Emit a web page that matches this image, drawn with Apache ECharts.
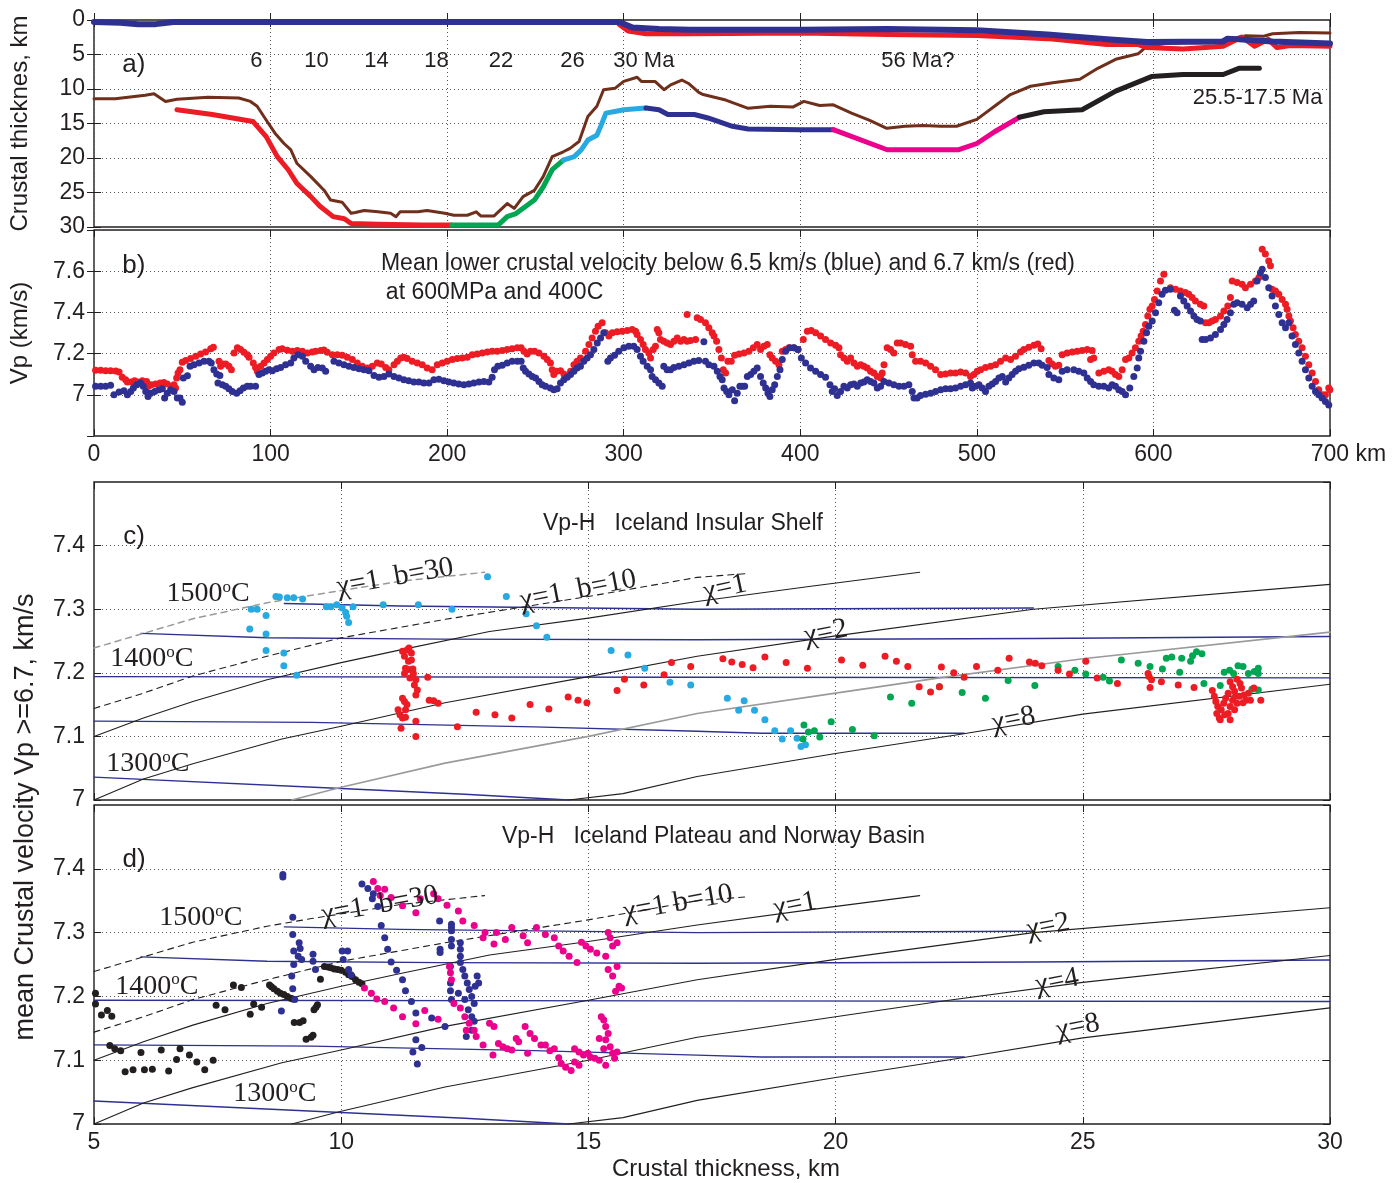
<!DOCTYPE html>
<html>
<head>
<meta charset="utf-8">
<script src="https://cdn.jsdelivr.net/npm/echarts@6/dist/echarts.min.js"></script>
<style>
  html, body { margin: 0; padding: 0; background: #fff; }
  #chart { width: 1397px; height: 1183px; }
</style>
</head>
<body>
<div id="chart"></div>
<script>
// ---------- a) crustal thickness along the profile: [distance km, depth km] ----------
const aTopNavy = [[0,0.3],[15,0.4],[25,0.6],[35,0.6],[45,0.3],[150,0.3],[250,0.3],[297.5,0.3],[305,1.1],[320,1.3],[337.5,1.4],[401,1.4],[449,1.3],[500,1.5],[540,2.1],[573.6,2.8],[596.4,3.2],[639.5,3.1],[642,2.7],[667.5,3.1],[700,3.4]];
const aTopRed = [[297.5,0.65],[302.5,1.6],[312.6,2.0],[337.5,2.0],[401,1.9],[449,2.1],[500,2.25],[540,2.7],[573.6,3.55],[591,3.55],[596.4,4.0],[616.7,4.2],[639.5,3.8],[650,2.45],[657.3,3.8],[665,2.8],[670,4.0],[677.6,3.7],[700,3.8]];
const aBrown = [[0,11.4],[12,11.4],[29,10.9],[34,10.7],[40.5,11.8],[47,11.5],[64.6,11.2],[82,11.3],[88.6,11.8],[92.4,12.5],[97.5,14.5],[102.5,16.4],[107.6,17.9],[111.4,18.8],[115,20.8],[122.8,22.7],[130.4,24.7],[134,26.1],[140.5,26.4],[145.6,28],[148,27.9],[153,27.6],[160.8,27.8],[168,28],[171,28.5],[173.4,27.8],[183.5,27.8],[188.6,27.6],[198.7,28],[203.8,28.3],[211.4,28.3],[216.5,27.8],[219,28.4],[226.6,28.4],[234,26.6],[238,27.3],[243,25.6],[249.4,24.7],[254.4,22.7],[259.5,19.8],[265.8,19.1],[269.6,18.6],[274.7,17.6],[279.7,14],[284.8,12.5],[288.6,10.1],[295,9.9],[300,8.9],[307.6,8.3],[310,8.9],[317.7,8.9],[322.8,10.1],[326.6,9.4],[332.9,8.7],[336.7,9.2],[342.5,10.5],[345,10.8],[357.8,11.6],[370.5,12.8],[383,12.5],[396,12.6],[402,11.8],[411,12.4],[418.7,12.3],[429,13.5],[439,14.5],[449,15.7],[459.3,15.4],[469.5,15.3],[479.6,15.4],[488.5,15.4],[500,14.4],[510,12.5],[519,10.8],[530.4,9.6],[543,9.1],[558.3,8.6],[568.5,7.0],[578.6,5.7],[591.3,4.9],[596.4,3.8],[606.5,3.4],[616.7,3.3],[632,3.3],[642,2.8],[652,2.3],[662.4,2.35],[667.5,2.0],[682.7,1.8],[700,1.9]];
const aBaseRed = [[47,13],[67,13.7],[90,14.7],[97.5,16.9],[103.8,19.8],[110,21.7],[115,23.7],[122.8,25.6],[128,27],[135.4,28.5],[141.8,28.8],[145.6,29.5],[160.8,29.6],[186,29.7],[202.5,29.7]];
const aBaseGreen = [[202.5,29.7],[229,29.7],[234,28.5],[239,28.05],[244,27.1],[249.4,26.1],[254.4,24.2],[259.5,21.7],[265.8,20.3]];
const aBaseCyan = [[265.8,20.3],[272,19.8],[276,18.8],[279.7,17.4],[284.8,16.7],[287.3,15.2],[289.9,13.5],[295,13.25],[300,13.0],[312.6,12.75]];
const aBaseNavy = [[312.6,12.75],[320,13.0],[325,13.7],[340,13.7],[347.7,14.2],[361.6,15.4],[370.5,15.8],[399.7,15.9],[418.7,15.9]];
const aBaseMagenta = [[418.7,15.9],[449.2,18.8],[489.8,18.8],[500,17.9],[510,16.2],[524,14.1]];
const aBaseBlack = [[524,14.1],[538,13.3],[559.6,13.0],[578.6,10.3],[598.9,8.2],[616.7,7.9],[639.5,7.9],[648.4,7.0],[660,7.0]];
const ageText = ['6','10','14','18','22','26','30 Ma','56 Ma?'];
const ageKm = [92,126,160,194,230.5,271,311.4,466.6];

// ---------- b) mean lower crustal velocity: [distance km, Vp km/s] ----------
const bVpRed = [[0.9,7.119],[3.8,7.119],[6.6,7.117],[9.4,7.117],[12.3,7.115],[14.2,7.111],[16.0,7.085],[17.9,7.073],[18.9,7.062],[21.1,7.062],[23.0,7.068],[24.9,7.062],[27.4,7.068],[29.8,7.065],[30.8,7.041],[32.5,7.049],[34.9,7.052],[37.4,7.057],[39.6,7.06],[41.5,7.052],[43.8,7.041],[45.3,7.049],[46.2,7.033],[46.8,7.081],[47.6,7.106],[48.7,7.122],[50.0,7.158],[51.9,7.166],[54.7,7.176],[57.6,7.187],[60.4,7.198],[63.2,7.208],[66.1,7.224],[67.6,7.231],[70.8,7.163],[71.7,7.138],[72.7,7.15],[74.6,7.15],[76.4,7.138],[77.8,7.122],[79.3,7.203],[81.2,7.228],[83.0,7.22],[84.9,7.207],[86.8,7.195],[87.8,7.182],[90.2,7.154],[91.5,7.133],[92.5,7.114],[94.4,7.138],[96.3,7.154],[98.2,7.171],[100.0,7.187],[101.9,7.203],[104.8,7.22],[106.6,7.223],[109.5,7.216],[112.3,7.211],[115.1,7.215],[118.0,7.211],[120.8,7.203],[123.6,7.208],[125.5,7.211],[128.4,7.215],[130.2,7.218],[132.1,7.207],[135.0,7.195],[137.8,7.195],[140.6,7.192],[143.5,7.182],[146.3,7.171],[149.1,7.154],[151.9,7.138],[154.8,7.13],[157.6,7.138],[160.4,7.154],[162.7,7.15],[165.2,7.133],[167.0,7.122],[169.9,7.146],[171.8,7.163],[173.7,7.179],[175.5,7.182],[177.4,7.176],[180.2,7.163],[183.1,7.154],[185.9,7.146],[188.7,7.13],[191.5,7.122],[194.4,7.146],[197.2,7.154],[200.0,7.163],[202.9,7.171],[205.7,7.176],[208.5,7.179],[211.4,7.182],[214.2,7.195],[217.0,7.198],[219.9,7.203],[222.7,7.208],[225.5,7.211],[228.3,7.211],[231.2,7.215],[234.0,7.22],[236.8,7.224],[239.7,7.228],[241.9,7.228],[243.5,7.211],[245.3,7.198],[247.2,7.211],[249.5,7.211],[252.0,7.203],[254.8,7.187],[256.7,7.171],[258.5,7.154],[259.5,7.122],[260.4,7.098],[262.0,7.114],[264.2,7.117],[266.1,7.101],[268.0,7.089],[269.9,7.114],[271.8,7.146],[273.6,7.163],[275.5,7.179],[278.4,7.211],[280.3,7.244],[282.1,7.276],[284.0,7.309],[285.5,7.333],[287.8,7.35],[289.7,7.301],[291.6,7.285],[293.5,7.301],[296.3,7.306],[299.1,7.309],[302.0,7.312],[304.8,7.317],[306.7,7.309],[307.6,7.293],[309.5,7.268],[311.0,7.244],[312.3,7.22],[314.2,7.203],[315.2,7.179],[316.7,7.22],[318.0,7.236],[319.0,7.317],[319.9,7.301],[320.8,7.268],[322.7,7.26],[324.6,7.252],[326.5,7.244],[328.4,7.26],[330.3,7.276],[332.2,7.26],[334.1,7.268],[335.9,7.26],[337.8,7.263],[340.7,7.268],[335.9,7.39],[341.6,7.374],[343.5,7.366],[346.3,7.35],[348.2,7.325],[350.1,7.301],[351.1,7.285],[352.6,7.26],[353.9,7.22],[355.3,7.179],[356.4,7.122],[357.7,7.106],[359.0,7.163],[360.9,7.163],[362.8,7.192],[365.3,7.198],[368.1,7.203],[370.9,7.211],[373.4,7.228],[375.6,7.244],[377.5,7.22],[379.4,7.236],[381.3,7.244],[382.8,7.195],[384.1,7.179],[386.0,7.163],[387.9,7.146],[389.8,7.211],[391.7,7.22],[393.6,7.228],[396.4,7.228],[398.7,7.22],[401.7,7.268],[404.0,7.309],[406.2,7.312],[408.7,7.301],[411.5,7.285],[414.3,7.268],[417.2,7.252],[420.0,7.241],[421.9,7.228],[422.8,7.195],[424.7,7.179],[426.6,7.163],[428.5,7.179],[430.4,7.154],[432.3,7.138],[434.2,7.146],[436.0,7.138],[437.9,7.13],[439.8,7.114],[441.7,7.106],[443.6,7.089],[445.5,7.081],[446.4,7.106],[447.4,7.146],[449.2,7.228],[451.1,7.22],[453.0,7.203],[454.9,7.252],[456.8,7.252],[459.6,7.244],[462.5,7.236],[463.4,7.195],[465.3,7.163],[468.1,7.163],[471.0,7.154],[473.8,7.138],[476.6,7.122],[479.5,7.098],[482.3,7.101],[485.1,7.106],[487.9,7.106],[490.8,7.111],[493.6,7.106],[496.4,7.089],[498.3,7.098],[500.2,7.114],[502.1,7.122],[504.9,7.133],[507.8,7.138],[510.6,7.146],[513.4,7.163],[516.3,7.179],[519.1,7.171],[521.9,7.187],[524.7,7.208],[526.6,7.22],[529.4,7.231],[532.3,7.241],[534.5,7.247],[536.4,7.224],[540.8,7.166],[542.6,7.15],[544.5,7.138],[546.4,7.143],[548.3,7.195],[551.1,7.203],[554.0,7.208],[556.8,7.211],[559.6,7.215],[562.5,7.22],[565.3,7.215],[566.2,7.179],[564.4,7.171],[569.1,7.106],[571.9,7.114],[574.7,7.122],[576.6,7.114],[578.5,7.098],[580.4,7.089],[582.3,7.122],[584.2,7.171],[586.1,7.179],[587.9,7.203],[589.8,7.228],[591.7,7.26],[593.0,7.285],[594.2,7.309],[595.5,7.341],[596.8,7.382],[598.0,7.415],[599.3,7.431],[600.6,7.463],[602.1,7.504],[604.0,7.553],[605.9,7.585],[609.6,7.52],[612.5,7.512],[615.3,7.504],[618.1,7.496],[620.0,7.488],[621.9,7.472],[623.8,7.455],[626.6,7.439],[628.5,7.431],[629.5,7.35],[631.4,7.35],[633.2,7.358],[635.1,7.366],[638.0,7.382],[639.9,7.407],[642.1,7.431],[643.6,7.472],[644.6,7.553],[647.4,7.545],[650.2,7.537],[652.1,7.52],[655.0,7.537],[657.8,7.553],[659.7,7.569],[661.6,7.707],[663.4,7.683],[665.3,7.65],[666.3,7.626],[667.2,7.512],[669.1,7.504],[671.0,7.488],[672.9,7.463],[674.8,7.439],[675.7,7.415],[676.7,7.382],[677.6,7.358],[679.1,7.325],[680.4,7.293],[682.3,7.26],[684.2,7.228],[686.1,7.187],[688.0,7.146],[689.9,7.106],[691.8,7.065],[693.6,7.024],[695.5,7.0],[697.4,7.0],[699.3,7.033],[699.9,7.024]];
const bVpBlue = [[0.9,7.041],[3.8,7.041],[6.6,7.042],[9.4,7.046],[11.3,7.0],[14.2,7.013],[17.0,7.02],[18.9,7.0],[20.8,7.016],[22.3,7.033],[24.2,7.049],[26.4,7.057],[27.9,7.041],[29.3,7.016],[30.6,6.992],[32.1,7.008],[34.4,7.016],[36.8,7.024],[38.7,7.029],[40.0,6.984],[41.5,7.008],[43.4,7.024],[45.3,7.016],[47.2,6.984],[48.7,6.984],[50.0,6.964],[50.6,7.081],[52.9,7.093],[54.4,7.138],[56.6,7.146],[59.5,7.154],[62.3,7.163],[65.1,7.163],[66.4,7.154],[67.9,7.122],[69.5,7.101],[71.3,7.094],[70.2,7.057],[72.7,7.049],[74.6,7.041],[76.4,7.029],[78.3,7.016],[80.8,7.008],[82.7,7.02],[84.6,7.033],[86.8,7.041],[88.7,7.041],[91.5,7.041],[93.4,7.098],[95.3,7.106],[97.2,7.114],[99.1,7.122],[101.0,7.117],[103.4,7.127],[105.7,7.133],[108.5,7.146],[111.4,7.154],[113.2,7.179],[115.5,7.195],[118.0,7.187],[119.9,7.163],[122.7,7.138],[124.6,7.122],[126.8,7.133],[129.3,7.13],[131.2,7.114],[135.9,7.163],[138.7,7.154],[141.6,7.146],[144.4,7.138],[147.2,7.133],[150.1,7.127],[152.9,7.122],[155.7,7.117],[158.6,7.094],[161.4,7.085],[164.2,7.089],[167.0,7.101],[169.9,7.089],[172.7,7.081],[175.5,7.073],[178.3,7.068],[181.2,7.062],[184.0,7.062],[186.8,7.057],[189.7,7.057],[192.5,7.073],[195.3,7.076],[198.2,7.068],[201.0,7.062],[203.8,7.057],[206.6,7.052],[209.5,7.049],[212.3,7.052],[215.1,7.057],[218.0,7.062],[220.8,7.065],[223.6,7.062],[225.5,7.085],[226.8,7.122],[228.7,7.138],[231.2,7.143],[234.0,7.154],[236.8,7.163],[239.7,7.163],[241.9,7.163],[243.1,7.13],[244.4,7.114],[246.3,7.101],[248.2,7.089],[250.1,7.081],[252.0,7.065],[253.8,7.049],[255.7,7.041],[258.5,7.033],[260.4,7.024],[262.3,7.029],[264.2,7.057],[266.1,7.073],[268.0,7.085],[269.9,7.098],[271.8,7.114],[273.6,7.13],[275.5,7.138],[277.4,7.163],[279.3,7.179],[281.2,7.195],[283.1,7.22],[285.0,7.252],[286.9,7.276],[288.7,7.301],[291.0,7.163],[292.5,7.179],[294.8,7.192],[297.2,7.211],[300.1,7.228],[302.9,7.236],[305.7,7.236],[307.6,7.22],[309.5,7.187],[311.0,7.163],[313.3,7.138],[315.2,7.122],[316.1,7.089],[318.0,7.073],[319.9,7.057],[321.8,7.041],[322.7,7.138],[324.6,7.122],[326.5,7.122],[328.4,7.133],[331.2,7.138],[334.1,7.146],[336.9,7.154],[339.7,7.163],[342.5,7.166],[345.4,7.257],[346.3,7.163],[348.2,7.146],[351.1,7.138],[353.0,7.114],[354.5,7.089],[355.8,7.073],[356.8,7.033],[358.3,7.016],[359.6,7.0],[361.5,7.024],[362.8,6.971],[364.3,7.008],[365.8,7.041],[367.1,7.041],[368.5,7.041],[370.0,7.089],[371.9,7.098],[373.7,7.114],[375.6,7.13],[377.5,7.089],[379.0,7.057],[380.4,7.033],[381.7,7.008],[382.8,6.992],[384.1,7.024],[385.5,7.049],[387.0,7.089],[388.5,7.122],[389.8,7.171],[391.7,7.211],[394.1,7.228],[396.4,7.228],[398.7,7.22],[400.6,7.179],[403.0,7.154],[405.8,7.13],[408.7,7.114],[411.5,7.098],[414.3,7.085],[416.8,7.049],[418.1,7.016],[419.4,7.029],[420.9,6.997],[422.8,7.016],[424.7,7.041],[426.6,7.033],[428.5,7.049],[430.4,7.052],[432.3,7.041],[434.2,7.057],[436.0,7.062],[437.9,7.073],[439.8,7.065],[441.7,7.057],[443.6,7.033],[445.5,7.041],[447.4,7.065],[450.2,7.057],[453.0,7.049],[455.9,7.041],[458.7,7.041],[461.5,7.049],[463.4,7.016],[464.4,6.984],[466.2,6.984],[468.1,6.997],[471.0,7.003],[473.8,7.008],[476.6,7.016],[479.5,7.024],[482.3,7.029],[485.1,7.029],[487.9,7.033],[490.8,7.041],[493.6,7.049],[496.4,7.057],[497.4,7.033],[499.3,7.041],[501.2,7.049],[503.0,7.033],[504.9,7.016],[506.8,7.041],[508.7,7.052],[510.6,7.065],[512.5,7.081],[514.4,7.089],[516.3,7.062],[518.1,7.081],[520.0,7.098],[521.9,7.114],[523.8,7.127],[526.6,7.134],[529.4,7.143],[532.3,7.154],[535.1,7.154],[537.0,7.143],[539.8,7.133],[540.8,7.098],[543.6,7.081],[546.4,7.073],[548.3,7.114],[551.1,7.122],[554.9,7.122],[557.7,7.114],[560.6,7.106],[562.5,7.081],[564.4,7.065],[566.2,7.049],[569.1,7.041],[571.9,7.041],[574.7,7.033],[576.6,7.049],[578.5,7.041],[580.4,7.024],[582.3,7.016],[584.2,7.0],[586.6,7.033],[588.9,7.089],[590.8,7.13],[591.7,7.179],[592.7,7.211],[594.6,7.26],[596.1,7.301],[597.4,7.333],[599.3,7.358],[601.2,7.398],[603.0,7.447],[604.9,7.488],[606.8,7.507],[609.6,7.512],[611.9,7.41],[613.4,7.398],[615.3,7.48],[617.2,7.455],[619.1,7.431],[621.0,7.407],[622.9,7.382],[624.7,7.366],[626.6,7.358],[627.6,7.268],[629.5,7.268],[632.3,7.276],[635.1,7.293],[638.0,7.317],[639.9,7.341],[641.7,7.366],[643.6,7.398],[645.5,7.439],[647.4,7.447],[650.2,7.439],[653.1,7.423],[655.0,7.439],[656.8,7.455],[658.7,7.553],[660.6,7.593],[661.6,7.61],[663.4,7.569],[665.3,7.52],[667.2,7.48],[669.1,7.431],[671.0,7.39],[672.9,7.35],[674.8,7.325],[676.7,7.35],[678.5,7.285],[680.4,7.244],[682.3,7.203],[684.2,7.163],[686.1,7.122],[688.0,7.081],[689.9,7.041],[691.8,7.016],[693.6,7.0],[695.5,6.984],[697.4,6.967],[699.3,6.951]];

// ---------- c), d) model curves: [crustal thickness km, Vp km/s] ----------
const chi1 = [[5,7.10],[6,7.129],[7,7.155],[8.5,7.189],[10,7.216],[11.2,7.236],[13,7.265],[15,7.286],[17.2,7.312],[19.5,7.336],[21.7,7.358]];
const chi2 = [[5,7.0],[6,7.033],[7,7.057],[8.8,7.096],[10,7.116],[12.1,7.153],[15,7.194],[17.2,7.226],[20,7.258],[24,7.3],[30,7.339]];
const chi4 = [[9,7.0],[10,7.02],[12.1,7.058],[15,7.1],[17.2,7.136],[20,7.168],[22.1,7.192],[25,7.222],[30,7.264]];
const chi8 = [[14.6,7.0],[15.7,7.01],[17.2,7.037],[20,7.073],[22.5,7.103],[25,7.135],[30,7.182]];
const chi1b30 = [[5,7.239],[6,7.262],[7,7.285],[8.5,7.31],[9.4,7.322],[11.2,7.344],[12.9,7.358]];
const chi1b10 = [[5,7.144],[6,7.168],[7,7.195],[8.5,7.226],[10,7.255],[12.1,7.284],[15,7.32],[17.2,7.35],[18.2,7.356]];
const isoA = [[8.85,7.309],[11.2,7.305],[17.2,7.30],[24,7.302]];
const isoB = [[5.95,7.262],[8.5,7.255],[12,7.253],[17.2,7.252],[24,7.254],[30,7.257]];
const isoC = [[5,7.194],[17,7.193],[30,7.192]];
const isoD = [[5,7.124],[9.4,7.122],[13.9,7.115],[17.2,7.108],[18.5,7.105],[22.6,7.105]];
const isoE = [[5,7.036],[10,7.018],[12.5,7.009],[14.6,7.0]];

// ---------- c) Iceland Insular Shelf observations ----------
const cCyan = [[8.15,7.269],[8.18,7.300],[8.30,7.300],[8.48,7.290],[8.48,7.261],[8.48,7.235],[8.68,7.320],[8.75,7.319],[8.84,7.231],[8.84,7.211],[8.91,7.318],[9.04,7.318],[9.10,7.196],[9.22,7.316],[9.70,7.304],[9.79,7.304],[9.91,7.307],[10.02,7.302],[10.09,7.295],[10.11,7.289],[10.15,7.279],[10.24,7.304],[10.85,7.307],[11.56,7.307],[12.24,7.300],[12.96,7.351],[13.34,7.320],[13.74,7.293],[13.95,7.274],[14.16,7.256],[15.46,7.235],[15.80,7.228],[16.14,7.207],[16.65,7.185],[17.07,7.181],[17.81,7.160],[18.15,7.156],[18.04,7.141],[18.36,7.141],[18.57,7.126],[18.77,7.109],[19.09,7.109],[18.92,7.096],[19.22,7.097],[19.30,7.084],[19.39,7.087]];
const cRed = [[11.24,7.234],[11.33,7.236],[11.37,7.239],[11.42,7.231],[11.28,7.226],[11.36,7.218],[11.42,7.22],[11.3,7.207],[11.37,7.205],[11.45,7.206],[11.28,7.199],[11.46,7.199],[11.39,7.192],[11.51,7.189],[11.48,7.181],[11.54,7.173],[11.51,7.165],[11.75,7.193],[11.24,7.16],[11.28,7.155],[11.33,7.15],[11.3,7.142],[11.15,7.142],[11.19,7.134],[11.24,7.129],[11.3,7.13],[11.21,7.113],[11.51,7.124],[11.51,7.1],[11.78,7.157],[11.87,7.156],[11.96,7.152],[12.35,7.115],[12.73,7.138],[13.11,7.134],[13.45,7.129],[13.82,7.15],[14.2,7.143],[14.59,7.162],[14.79,7.157],[14.97,7.153],[15.58,7.172],[15.73,7.19],[16.12,7.181],[16.53,7.197],[16.68,7.216],[17.07,7.21],[17.72,7.222],[17.9,7.217],[18.11,7.213],[18.33,7.208],[18.57,7.225],[19.0,7.216],[19.43,7.207],[20.12,7.22],[20.55,7.212],[21.0,7.226],[21.23,7.218],[21.46,7.21],[21.69,7.178],[21.92,7.17],[22.1,7.178],[22.14,7.209],[22.39,7.2],[22.6,7.193],[22.85,7.21],[23.28,7.204],[23.51,7.223],[23.92,7.217],[24.04,7.215],[24.17,7.211],[24.5,7.204],[24.73,7.198],[25.06,7.218],[25.29,7.192],[25.7,7.183],[26.32,7.199],[26.34,7.194],[26.39,7.189],[26.36,7.177],[26.59,7.186],[26.93,7.181],[27.25,7.177],[27.62,7.172],[27.66,7.163],[27.69,7.155],[27.73,7.147],[27.71,7.136],[27.76,7.129],[27.8,7.142],[27.85,7.152],[27.89,7.16],[27.94,7.168],[27.98,7.186],[28.03,7.178],[28.07,7.171],[28.09,7.163],[28.03,7.157],[27.98,7.147],[27.94,7.136],[27.98,7.126],[28.07,7.142],[28.12,7.152],[28.17,7.163],[28.21,7.176],[28.26,7.165],[28.3,7.157],[28.35,7.168],[28.39,7.157],[28.46,7.176],[28.6,7.157],[28.12,7.19],[28.18,7.183],[27.87,7.134],[27.78,7.126],[28.24,7.153]];
const cGreen = [[19.36,7.118],[19.45,7.107],[19.57,7.109],[19.34,7.096],[19.68,7.099],[19.91,7.123],[20.34,7.111],[20.78,7.101],[21.11,7.162],[21.54,7.152],[22.1,7.178],[22.56,7.169],[23.03,7.16],[23.49,7.188],[24.03,7.18],[24.5,7.21],[24.84,7.204],[25.06,7.198],[25.41,7.193],[25.54,7.187],[25.78,7.22],[26.12,7.215],[26.36,7.21],[26.61,7.206],[26.69,7.223],[26.8,7.225],[26.96,7.201],[27.0,7.223],[27.18,7.218],[27.22,7.227],[27.3,7.233],[27.41,7.23],[27.45,7.183],[27.78,7.18],[27.86,7.201],[27.97,7.204],[28.05,7.199],[28.14,7.211],[28.24,7.21],[28.35,7.199],[28.47,7.202],[28.55,7.207],[28.55,7.199],[28.42,7.174],[28.55,7.173]];

// ---------- d) Iceland Plateau and Norway Basin observations ----------
const dBlack = [[5.03,7.205],[5.03,7.188],[5.15,7.171],[5.27,7.178],[5.36,7.169],[5.32,7.123],[5.42,7.118],[5.54,7.115],[5.63,7.082],[5.79,7.085],[5.95,7.112],[6.02,7.085],[6.18,7.086],[6.36,7.116],[6.51,7.083],[6.67,7.101],[6.74,7.118],[6.93,7.108],[7.08,7.097],[7.24,7.085],[7.41,7.1],[7.47,7.186],[7.65,7.179],[7.82,7.218],[7.98,7.214],[8.16,7.172],[8.23,7.188],[8.39,7.183],[8.55,7.218],[8.59,7.215],[8.64,7.212],[8.71,7.208],[8.77,7.205],[8.84,7.203],[8.91,7.2],[8.98,7.197],[9.02,7.196],[9.05,7.159],[9.16,7.159],[9.23,7.162],[9.29,7.133],[9.39,7.136],[9.43,7.139],[9.45,7.179],[9.49,7.183],[9.52,7.187],[9.58,7.227],[9.66,7.247],[9.73,7.246],[9.79,7.245],[9.86,7.243],[9.93,7.242],[10.0,7.241],[10.09,7.238],[10.15,7.234],[10.22,7.231],[10.29,7.226],[10.36,7.222],[10.42,7.22]];
const dNavy = [[8.82,7.391],[8.82,7.387],[9.02,7.324],[9.02,7.297],[9.04,7.271],[9.04,7.25],[9.0,7.232],[9.02,7.212],[9.06,7.195],[8.79,7.177],[9.15,7.284],[9.17,7.275],[9.13,7.263],[9.2,7.258],[9.43,7.266],[9.43,7.255],[9.48,7.242],[10.02,7.271],[10.13,7.271],[10.04,7.258],[10.15,7.242],[10.2,7.234],[10.42,7.376],[10.54,7.369],[10.65,7.361],[10.63,7.353],[10.74,7.341],[10.81,7.311],[10.88,7.292],[10.94,7.274],[11.01,7.254],[11.12,7.241],[11.24,7.226],[11.3,7.209],[11.42,7.192],[11.51,7.174],[11.51,7.132],[11.63,7.12],[11.54,7.094],[11.45,7.113],[11.83,7.166],[12.1,7.153],[11.99,7.318],[12.0,7.274],[12.0,7.269],[12.23,7.313],[12.23,7.308],[12.23,7.303],[12.23,7.289],[12.23,7.279],[12.21,7.247],[12.21,7.221],[12.21,7.209],[12.23,7.195],[12.41,7.284],[12.41,7.274],[12.41,7.263],[12.41,7.253],[12.46,7.242],[12.5,7.232],[12.55,7.221],[12.59,7.211],[12.64,7.2],[12.69,7.189],[12.57,7.179],[12.64,7.168],[12.69,7.161],[12.64,7.147],[12.53,7.137],[12.75,7.232],[12.78,7.221],[12.71,7.216],[12.5,7.195],[12.37,7.205]];
const dMagenta = [[10.65,7.38],[10.74,7.369],[10.79,7.358],[10.88,7.368],[11.01,7.355],[11.24,7.342],[11.51,7.331],[11.6,7.353],[11.87,7.361],[11.96,7.353],[12.14,7.343],[12.37,7.334],[12.46,7.318],[12.69,7.311],[12.91,7.3],[12.87,7.292],[13.09,7.282],[13.14,7.3],[13.32,7.289],[13.45,7.308],[13.68,7.295],[13.77,7.284],[13.95,7.308],[14.13,7.297],[14.31,7.292],[14.4,7.279],[14.49,7.271],[14.61,7.263],[14.77,7.253],[14.86,7.285],[14.95,7.279],[15.04,7.274],[15.17,7.268],[15.4,7.3],[15.44,7.292],[15.49,7.279],[15.58,7.284],[15.35,7.263],[15.4,7.242],[15.49,7.232],[15.58,7.247],[15.62,7.216],[15.55,7.208],[15.67,7.213],[10.47,7.213],[10.61,7.205],[10.72,7.196],[10.88,7.192],[11.06,7.182],[11.24,7.168],[11.51,7.157],[11.69,7.178],[11.96,7.164],[12.19,7.247],[12.21,7.237],[12.23,7.226],[12.28,7.189],[12.41,7.182],[12.5,7.168],[12.59,7.158],[12.69,7.147],[12.53,7.147],[12.73,7.137],[12.87,7.124],[13.0,7.158],[13.09,7.153],[13.07,7.108],[13.18,7.126],[13.27,7.121],[13.36,7.118],[13.45,7.116],[13.54,7.134],[13.59,7.129],[13.72,7.153],[13.82,7.142],[13.77,7.111],[13.91,7.134],[14.04,7.124],[14.13,7.124],[14.22,7.115],[14.31,7.118],[14.4,7.104],[14.45,7.095],[14.54,7.089],[14.65,7.084],[14.72,7.097],[14.81,7.092],[14.99,7.111],[15.04,7.105],[15.13,7.103],[15.22,7.1],[15.31,7.118],[15.35,7.132],[15.22,7.134],[15.26,7.168],[15.31,7.163],[15.35,7.153],[15.4,7.142],[15.44,7.121],[15.49,7.111],[15.53,7.103],[15.35,7.092],[15.58,7.113],[14.72,7.118],[14.81,7.113],[14.9,7.108]];

// ---------- styling ----------
const SANS = 'Liberation Sans';
const SERIF = 'Liberation Serif';
const INK = '#231f20';
const C = {
  red: '#ed1c24', navy: '#2e3192', brown: '#6f2f1a', green: '#00a651',
  cyan: '#27aae1', magenta: '#ec008c', black: '#231f20', grey: '#9a9a9a'
};
const TICK_FS = 23;
const tick = { show: true, inside: true, length: 7, lineStyle: { color: INK, width: 1 } };
const dotted = { show: true, lineStyle: { color: '#555', width: 1, type: [1, 3] } };
const labelFont = { fontFamily: SANS, fontSize: TICK_FS, color: INK };
const nameFont = { fontFamily: SANS, fontSize: 24, color: INK };

const frames = [
  { top: 20, height: 207 },
  { top: 230, height: 206 },
  { top: 482, height: 318 },
  { top: 805, height: 319 }
];
const grid = frames.map(f => ({
  left: 94, right: 67, top: f.top, height: f.height, show: true,
  borderColor: INK, borderWidth: 1.4, backgroundColor: 'transparent'
}));

const xRanges = [[0, 700, 100], [0, 700, 100], [5, 30, 5], [5, 30, 5]];
const yRanges = [[0, 30, 5], [6.8, 7.8, 0.2], [7, 7.5, 0.1], [7, 7.5, 0.1]];

const xAxis = [];
const yAxis = [];
xRanges.forEach((r, i) => {
  const showLab = i === 1 || i === 3;
  const ax = {
    type: 'value', gridIndex: i, position: 'bottom', min: r[0], max: r[1], interval: r[2],
    axisLine: { show: false }, axisTick: tick, splitLine: dotted,
    axisLabel: Object.assign({ show: showLab, margin: 7 }, labelFont)
  };
  if (i === 1) {
    ax.axisLabel.formatter = v => v === 700 ? '{k|700 km}' : String(v);
    ax.axisLabel.rich = { k: { fontFamily: SANS, fontSize: TICK_FS, color: INK, padding: [0, 0, 0, 37] } };
  }
  if (i === 3) {
    ax.name = 'Crustal thickness, km';
    ax.nameLocation = 'middle';
    ax.nameGap = 33;
    ax.nameTextStyle = Object.assign({ padding: [0, 0, 0, 28] }, nameFont);
  }
  xAxis.push(ax);
});
xRanges.forEach((r, i) => {
  xAxis.push({
    type: 'value', gridIndex: i, position: 'top', min: r[0], max: r[1], interval: r[2],
    axisLine: { show: false }, axisTick: tick, splitLine: { show: false }, axisLabel: { show: false }
  });
});
yRanges.forEach((r, i) => {
  const ax = {
    type: 'value', gridIndex: i, position: 'left', min: r[0], max: r[1], interval: r[2],
    inverse: i === 0,
    axisLine: { show: false }, axisTick: tick, splitLine: dotted,
    axisLabel: Object.assign({ margin: 9, formatter: v => String(+v.toFixed(1)) }, labelFont)
  };
  if (i === 1) { ax.axisLabel.showMinLabel = false; ax.axisLabel.showMaxLabel = false; }
  if (i >= 2) { ax.axisLabel.showMaxLabel = false; }
  if (i === 0) { ax.name = 'Crustal thicknes, km'; }
  if (i === 1) { ax.name = 'Vp (km/s)'; }
  if (i <= 1) {
    ax.nameLocation = 'middle';
    ax.nameGap = 62;
    ax.nameTextStyle = nameFont;
  }
  yAxis.push(ax);
});
yRanges.forEach((r, i) => {
  yAxis.push({
    type: 'value', gridIndex: i, position: 'right', min: r[0], max: r[1], interval: r[2],
    inverse: i === 0,
    axisLine: { show: false }, axisTick: tick, splitLine: { show: false }, axisLabel: { show: false }
  });
});

const series = [];
function line(gi, data, color, width, dash, z) {
  series.push({
    type: 'line', xAxisIndex: gi, yAxisIndex: gi, data: data, showSymbol: false, symbol: 'none',
    lineStyle: { color: color, width: width, type: dash || 'solid', cap: 'round', join: 'round' },
    z: z || 2, silent: true, clip: true
  });
}
function dots(gi, data, color, size, z) {
  series.push({
    type: 'scatter', xAxisIndex: gi, yAxisIndex: gi, data: data, symbol: 'circle',
    symbolSize: size, itemStyle: { color: color, opacity: 1 }, z: z || 4, silent: true
  });
}
function texts(gi, items) {
  series.push({
    type: 'scatter', xAxisIndex: gi, yAxisIndex: gi, symbolSize: 1,
    itemStyle: { color: 'rgba(0,0,0,0)', opacity: 1 }, z: 10, silent: true,
    data: items.map(t => ({
      value: [t.x, t.y],
      label: {
        show: true, position: 'inside', formatter: t.text, rotate: t.rot || 0,
        align: t.align || 'center', verticalAlign: 'middle', opacity: 1,
        textBorderWidth: 0,
        fontFamily: t.serif ? SERIF : SANS, fontSize: t.size || 23, color: INK,
        rich: t.rich
      }
    }))
  });
}

// a) crustal thickness
line(0, aBrown, C.brown, 3, null, 2);
line(0, aBaseRed, C.red, 5, null, 3);
line(0, aBaseGreen, C.green, 5, null, 3);
line(0, aBaseCyan, C.cyan, 5, null, 3);
line(0, aBaseNavy, C.navy, 5, null, 3);
line(0, aBaseMagenta, C.magenta, 5, null, 3);
line(0, aBaseBlack, C.black, 5, null, 3);
line(0, aTopRed, C.red, 5, null, 3);
line(0, aTopNavy, C.navy, 6, null, 4);
texts(0, [{ x: 22.6, y: 6.5, text: 'a)', size: 26 }]
  .concat(ageText.map((t, k) => ({ x: ageKm[k], y: 6.0, text: t, size: 22 })))
  .concat([{ x: 659, y: 11.3, text: '25.5-17.5 Ma', size: 22 }]));

// b) mean lower crustal velocity
dots(1, bVpRed, C.red, 7, 4);
dots(1, bVpBlue, C.navy, 7, 5);
texts(1, [
  { x: 22.6, y: 7.626, text: 'b)', size: 26 },
  { x: 162.5, y: 7.636, text: 'Mean lower crustal velocity below 6.5 km/s (blue) and 6.7 km/s (red)', align: 'left', size: 23 },
  { x: 165.3, y: 7.494, text: 'at 600MPa and 400C', align: 'left', size: 23 }
]);

// c), d) model curves shared by both panels
const degRich = {
  n: { fontFamily: SERIF, fontSize: 28, color: INK, lineHeight: 30 },
  s: { fontFamily: SERIF, fontSize: 17, color: INK, verticalAlign: 'top', lineHeight: 16 }
};
function deg(t) { return '{n|' + t + '}{s|o}{n|C}'; }
[2, 3].forEach(gi => {
  line(gi, isoA, C.navy, 1.4, null, 2);
  line(gi, isoB, C.navy, 1.4, null, 2);
  line(gi, isoC, C.navy, 1.4, null, 2);
  line(gi, isoD, C.navy, 1.4, null, 2);
  line(gi, isoE, C.navy, 1.4, null, 2);
  line(gi, chi1, INK, 1.1, null, 2);
  line(gi, chi2, INK, 1.1, null, 2);
  line(gi, chi4, gi === 2 ? C.grey : INK, gi === 2 ? 1.6 : 1.1, null, 2);
  line(gi, chi8, INK, 1.1, null, 2);
  line(gi, chi1b30, gi === 2 ? C.grey : INK, gi === 2 ? 1.5 : 1.1, [6, 5], 2);
  line(gi, chi1b10, INK, 1.1, [6, 5], 2);
});

// c) Iceland Insular Shelf
dots(2, cCyan, C.cyan, 7, 4);
dots(2, cGreen, C.green, 7, 4);
dots(2, cRed, C.red, 7, 5);
texts(2, [
  { x: 5.81, y: 7.414, text: 'c)', size: 26 },
  { x: 14.08, y: 7.434, text: 'Vp-H   Iceland Insular Shelf', align: 'left', size: 23 },
  { x: 7.31, y: 7.324, text: deg('1500'), rich: degRich, serif: true },
  { x: 6.17, y: 7.222, text: deg('1400'), rich: degRich, serif: true },
  { x: 6.09, y: 7.057, text: deg('1300'), rich: degRich, serif: true },
  { x: 11.09, y: 7.35, text: 'χ=1  b=30', serif: true, size: 29, rot: 10 },
  { x: 14.79, y: 7.33, text: 'χ=1  b=10', serif: true, size: 29, rot: 11 },
  { x: 17.76, y: 7.333, text: 'χ=1', serif: true, size: 29, rot: 12 },
  { x: 19.8, y: 7.263, text: 'χ=2', serif: true, size: 29, rot: 11 },
  { x: 23.6, y: 7.126, text: 'χ=8', serif: true, size: 29, rot: 11 }
]);

// d) Iceland Plateau and Norway Basin
dots(3, dBlack, C.black, 7, 4);
dots(3, dNavy, C.navy, 7, 4);
dots(3, dMagenta, C.magenta, 7, 5);
texts(3, [
  { x: 5.81, y: 7.414, text: 'd)', size: 26 },
  { x: 13.25, y: 7.451, text: 'Vp-H   Iceland Plateau and Norway Basin', align: 'left', size: 23 },
  { x: 7.16, y: 7.323, text: deg('1500'), rich: degRich, serif: true },
  { x: 6.27, y: 7.216, text: deg('1400'), rich: degRich, serif: true },
  { x: 8.66, y: 7.047, text: deg('1300'), rich: degRich, serif: true },
  { x: 10.78, y: 7.343, text: 'χ=1  b=30', serif: true, size: 29, rot: 10 },
  { x: 16.81, y: 7.346, text: 'χ=1 b=10', serif: true, size: 29, rot: 10 },
  { x: 19.18, y: 7.343, text: 'χ=1', serif: true, size: 29, rot: 11 },
  { x: 24.3, y: 7.31, text: 'χ=2', serif: true, size: 29, rot: 11 },
  { x: 24.48, y: 7.223, text: 'χ=4', serif: true, size: 29, rot: 11 },
  { x: 24.9, y: 7.152, text: 'χ=8', serif: true, size: 29, rot: 11 }
]);

const chart = echarts.init(document.getElementById('chart'), null, { renderer: 'canvas' });
chart.setOption({
  animation: false,
  backgroundColor: '#fff',
  grid: grid,
  xAxis: xAxis,
  yAxis: yAxis,
  series: series,
  graphic: [{
    type: 'text', x: 26, y: 817, rotation: Math.PI / 2, silent: true,
    style: {
      text: 'mean Crustal velocity Vp >=6.7, km/s', fontFamily: SANS, fontSize: 27,
      fill: INK, textAlign: 'center', textVerticalAlign: 'middle'
    }
  }]
});
</script>
</body>
</html>
